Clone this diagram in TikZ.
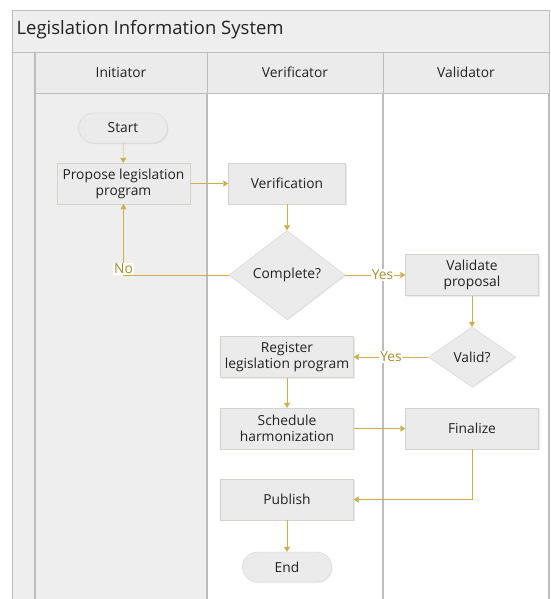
\documentclass[tikz,border=0pt]{standalone}
\usepackage{fontspec}
\setmainfont{Open Sans}
\usetikzlibrary{shapes.geometric,arrows.meta,shadows}
\definecolor{flowgold}{HTML}{CCAE4A}
\definecolor{labelgold}{HTML}{A58D2E}
\definecolor{boxfill}{HTML}{EBEBEB}
\definecolor{boxline}{HTML}{D3D3CC}
\definecolor{lanefill}{HTML}{EEEEEE}
\definecolor{laneline}{HTML}{BDBDBD}
\definecolor{inktext}{HTML}{222222}
\tikzset{
  box/.style={rectangle, fill=boxfill, draw=boxline, text=inktext, align=center,
    minimum width=133pt, minimum height=41pt, inner sep=2pt,
    drop shadow={opacity=0.15, shadow xshift=1pt, shadow yshift=-1pt},
    font=\fontsize{13.8}{16}\selectfont},
  terminal/.style={box, rounded corners=15pt, minimum width=89pt, minimum height=30pt},
  decision/.style={diamond, fill=boxfill, draw=boxline, text=inktext, inner sep=1pt,
    drop shadow={opacity=0.15, shadow xshift=1pt, shadow yshift=-1pt},
    font=\fontsize{13.8}{16}\selectfont},
  flow/.style={draw=flowgold, -{Triangle[length=5pt,width=6pt]}},
  flowlabel/.style={text=labelgold, fill=white, inner sep=1pt, font=\fontsize{13.8}{16}\selectfont},
  lanehead/.style={rectangle, fill=boxfill, draw=laneline, text=inktext,
    minimum height=41pt, font=\fontsize{13.8}{16}\selectfont},
}
\begin{document}
\begin{tikzpicture}[x=1pt,y=-1pt]
\useasboundingbox (0,0) rectangle (550,599);
\clip (0,0) rectangle (550,599);
% pool and lanes
\fill[white] (0,0) rectangle (550,599);
\filldraw[fill=lanefill, draw=laneline] (12,10) rectangle (549,620);
\node[anchor=west, text=inktext, font=\fontsize{18.5}{22}\selectfont] (title) at (13,30) {Legislation Information System};
\draw[laneline] (12,52) -- (549,52);
\filldraw[fill=lanefill, draw=laneline, line width=1.2pt] (35,93) rectangle (207,620);
\filldraw[fill=white, draw=laneline, line width=1.2pt] (207,93) rectangle (383,620);
\filldraw[fill=white, draw=laneline, line width=1.2pt] (383,93) rectangle (549,620);
\node[lanehead, minimum width=172pt] (hinit) at (121,72.5) {Initiator};
\node[lanehead, minimum width=176pt] (hverif) at (295,72.5) {Verificator};
\node[lanehead, minimum width=166pt] (hvalid) at (466,72.5) {Validator};
\draw[laneline, line width=1.2pt] (35,52) -- (35,620);

% steps
\node[terminal] (start) at (123,128) {Start};
\node[box] (propose) at (123.5,183.5) {Propose legislation\\program};
\node[box, minimum width=117pt] (verif) at (287,183.5) {Verification};
\node[decision, minimum width=116pt, minimum height=89pt] (complete) at (287,275) {Complete?};
\node[box] (validate) at (472,275) {Validate\\proposal};
\node[decision, minimum width=87pt, minimum height=60pt] (valid) at (472,357) {Valid?};
\node[box] (register) at (287,357) {Register\\legislation program};
\node[box] (schedule) at (287,428.5) {Schedule\\harmonization};
\node[box] (finalize) at (472,428.5) {Finalize};
\node[box] (publish) at (287,499.5) {Publish};
\node[terminal] (stop) at (287,567) {End};

% connectors
\draw[flow] (start) -- (propose);
\draw[flow] (propose) -- (verif);
\draw[flow] (verif) -- (complete);
\draw[flow] (complete.west) -| (propose.south) node[flowlabel, pos=0.5, yshift=6pt] (no) {No};
\draw[flow] (complete.east) -- (validate.west) node[flowlabel, pos=0.62] (yes1) {Yes};
\draw[flow] (validate) -- (valid);
\draw[flow] (valid.west) -- (register.east) node[flowlabel, pos=0.5] (yes2) {Yes};
\draw[flow] (register) -- (schedule);
\draw[flow] (schedule) -- (finalize);
\draw[flow] (finalize.south) |- (publish.east);
\draw[flow] (publish) -- (stop);
\end{tikzpicture}
\end{document}
